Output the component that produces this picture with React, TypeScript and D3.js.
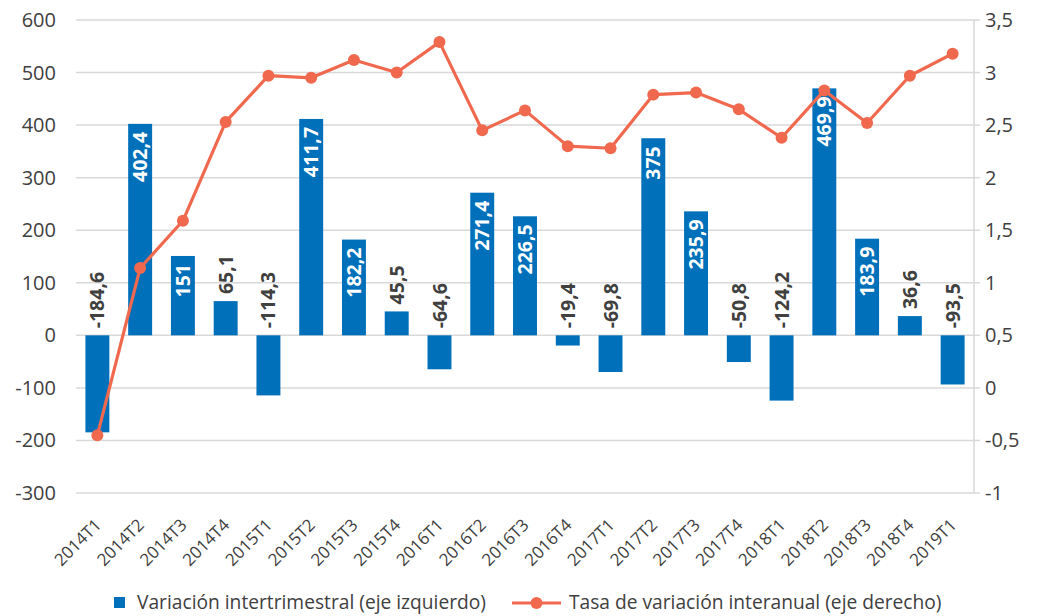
import React from "react";
import * as d3 from "d3";

const QUARTERS = [
  "2014T1", "2014T2", "2014T3", "2014T4",
  "2015T1", "2015T2", "2015T3", "2015T4",
  "2016T1", "2016T2", "2016T3", "2016T4",
  "2017T1", "2017T2", "2017T3", "2017T4",
  "2018T1", "2018T2", "2018T3", "2018T4",
  "2019T1",
];

// variación intertrimestral (eje izquierdo)
const QOQ = [
  -184.6, 402.4, 151, 65.1,
  -114.3, 411.7, 182.2, 45.5,
  -64.6, 271.4, 226.5, -19.4,
  -69.8, 375, 235.9, -50.8,
  -124.2, 469.9, 183.9, 36.6,
  -93.5,
];

// tasa de variación interanual (eje derecho)
const YOY = [
  -0.45, 1.14, 1.59, 2.53,
  2.97, 2.95, 3.12, 3.0,
  3.29, 2.45, 2.64, 2.3,
  2.28, 2.79, 2.81, 2.65,
  2.38, 2.83, 2.52, 2.97,
  3.18,
];

const LEFT_TICKS = [-300, -200, -100, 0, 100, 200, 300, 400, 500, 600];
const RIGHT_TICKS = [-1, -0.5, 0, 0.5, 1, 1.5, 2, 2.5, 3, 3.5];

const LEGEND_BAR = "Variación intertrimestral (eje izquierdo)";
const LEGEND_LINE = "Tasa de variación interanual (eje derecho)";

const W = 1038;
const H = 616;
const PLOT = { left: 76, right: 974, top: 20, bottom: 493 };

const BAR_COLOR = "#0070BA";
const LINE_COLOR = "#F0694E";
const GRID = "#D9D9D9";
const TEXT = "#404040";
const FONT = "'Open Sans', 'Noto Sans', sans-serif";

const fmt = (v: number) => String(v).replace(".", ",");

export default function App() {
  const x = d3
    .scaleBand<string>()
    .domain(QUARTERS)
    .range([PLOT.left, PLOT.right])
    .paddingInner(0.44)
    .paddingOuter(0.22);
  const yL = d3.scaleLinear().domain([-300, 600]).range([PLOT.bottom, PLOT.top]);
  const yR = d3.scaleLinear().domain([-1, 3.5]).range([PLOT.bottom, PLOT.top]);

  const cx = (q: string) => x(q)! + x.bandwidth() / 2;

  const line = d3
    .line<number>()
    .x((_, i) => cx(QUARTERS[i]))
    .y((d) => yR(d));

  return (
    <svg
      width={W}
      height={H}
      style={{ position: "absolute", left: 0, top: 0, fontFamily: FONT, background: "#fff" }}
    >
      {/* ── grid ── */}
      {LEFT_TICKS.map((t) => (
        <line
          key={"g" + t}
          x1={PLOT.left}
          x2={PLOT.right}
          y1={yL(t)}
          y2={yL(t)}
          stroke={GRID}
          strokeWidth={1.5}
        />
      ))}

      {/* ── left axis labels ── */}
      {LEFT_TICKS.map((t) => (
        <text key={"l" + t} x={56} y={yL(t)} dy="0.35em" textAnchor="end" fontSize={20} fill={TEXT}>
          {t}
        </text>
      ))}

      {/* ── right axis ── */}
      <line x1={PLOT.right} x2={PLOT.right} y1={PLOT.top} y2={PLOT.bottom} stroke={GRID} strokeWidth={1.5} />
      {RIGHT_TICKS.map((t) => (
        <g key={"r" + t}>
          <line x1={PLOT.right} x2={PLOT.right + 6} y1={yR(t)} y2={yR(t)} stroke={GRID} strokeWidth={1.5} />
          <text x={985} y={yR(t)} dy="0.35em" fontSize={20} fill={TEXT}>
            {fmt(t)}
          </text>
        </g>
      ))}

      {/* ── bars ── */}
      {QOQ.map((v, i) => {
        const q = QUARTERS[i];
        const y0 = yL(0);
        const y1 = yL(v);
        return (
          <rect
            key={"b" + q}
            x={x(q)}
            y={Math.min(y0, y1)}
            width={x.bandwidth()}
            height={Math.abs(y1 - y0)}
            fill={BAR_COLOR}
          />
        );
      })}

      {/* ── bar labels ── */}
      {QOQ.map((v, i) => {
        const q = QUARTERS[i];
        const inside = v > 100;
        const px = cx(q);
        const py = inside ? yL(v) + 8 : Math.min(yL(0), yL(v)) - 7;
        return (
          <text
            key={"t" + q}
            transform={`translate(${px},${py}) rotate(-90)`}
            dy="0.36em"
            textAnchor={inside ? "end" : "start"}
            fontSize={19.5}
            fontWeight={700}
            fill={inside ? "#fff" : TEXT}
          >
            {fmt(v)}
          </text>
        );
      })}

      {/* ── line ── */}
      <path d={line(YOY) ?? ""} fill="none" stroke={LINE_COLOR} strokeWidth={3.2} strokeLinejoin="round" />
      {YOY.map((v, i) => (
        <circle key={"c" + i} cx={cx(QUARTERS[i])} cy={yR(v)} r={6} fill={LINE_COLOR} />
      ))}

      {/* ── x axis labels ── */}
      {QUARTERS.map((q) => (
        <text
          key={"x" + q}
          transform={`translate(${cx(q) + 5},${526}) rotate(-45)`}
          textAnchor="end"
          fontSize={17}
          fill={TEXT}
        >
          {q}
        </text>
      ))}

      {/* ── legend ── */}
      <rect x={114} y={597} width={11} height={11} fill={BAR_COLOR} />
      <text x={137} y={609} fontSize={19.2} fill={TEXT}>
        {LEGEND_BAR}
      </text>
      <line x1={512} x2={561} y1={603} y2={603} stroke={LINE_COLOR} strokeWidth={3.2} />
      <circle cx={536.5} cy={603} r={6} fill={LINE_COLOR} />
      <text x={569} y={609} fontSize={19.2} fill={TEXT}>
        {LEGEND_LINE}
      </text>
    </svg>
  );
}
